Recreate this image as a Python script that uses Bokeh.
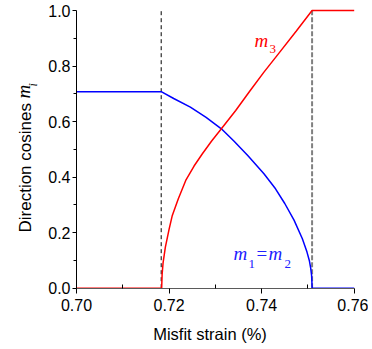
import math
from bokeh.plotting import figure
from bokeh.models import Range1d, FixedTicker, PrintfTickFormatter, Label
from bokeh.embed import file_html
from bokeh.resources import INLINE

# ---- data ----
x_ticks = [0.70, 0.72, 0.74, 0.76]
x_minor = [0.71, 0.73, 0.75]
y_ticks = [0.0, 0.2, 0.4, 0.6, 0.8, 1.0]
y_minor = [0.1, 0.3, 0.5, 0.7, 0.9]

strain_m12 = [0.700, 0.7184, 0.7210, 0.7246, 0.7280, 0.7313, 0.7340, 0.7370,
              0.7405, 0.7430, 0.7450, 0.7470, 0.7488, 0.7498, 0.7503, 0.7506,
              0.7508, 0.75092, 0.760]
m12 = [0.707, 0.707, 0.683, 0.652, 0.615, 0.574, 0.530, 0.478,
       0.412, 0.358, 0.305, 0.245, 0.178, 0.130, 0.100, 0.072,
       0.045, 0.0, 0.0]

strain_m3 = [0.700, 0.7184, 0.7185, 0.7187, 0.7192, 0.7200, 0.7207, 0.7220,
             0.7236, 0.7254, 0.7272, 0.7292, 0.7313, 0.7344, 0.7375, 0.7405,
             0.7440, 0.7475, 0.7509, 0.760]
m3 = [0.0, 0.0, 0.05, 0.09, 0.148, 0.212, 0.262, 0.322,
      0.388, 0.440, 0.484, 0.530, 0.574, 0.640, 0.711, 0.778,
      0.852, 0.926, 1.0, 1.0]

transition_strain = [0.7183, 0.7509]

# ---- layout: the frame spans the whole canvas, axes are pinned at (0.70, 0) ----
FW, FH = 368, 345
PX_PER_X = 277.7 / 0.06      # pixels per unit strain
PX_PER_Y = 277.7             # pixels per unit cosine
X0_PX, Y0_PX = 76.0, 287.7   # pixel position of (0.70, 0.0)

x_start = 0.70 - X0_PX / PX_PER_X
x_end = x_start + FW / PX_PER_X
y_end = Y0_PX / PX_PER_Y
y_start = y_end - FH / PX_PER_Y

p = figure(frame_width=FW, frame_height=FH, min_border=0,
           x_range=Range1d(x_start, x_end), y_range=Range1d(y_start, y_end),
           output_backend="svg", toolbar_location=None)

p.xgrid.visible = False
p.ygrid.visible = False
p.outline_line_color = None
p.background_fill_color = "white"
p.border_fill_color = "white"

p.xaxis.fixed_location = 0.0
p.yaxis.fixed_location = 0.70
p.xaxis.bounds = (x_ticks[0], x_ticks[-1])
p.yaxis.bounds = (y_ticks[0], y_ticks[-1])

p.xaxis.ticker = FixedTicker(ticks=x_ticks, minor_ticks=x_minor)
p.yaxis.ticker = FixedTicker(ticks=y_ticks, minor_ticks=y_minor)
p.xaxis.formatter = PrintfTickFormatter(format="%.2f")
p.yaxis.formatter = PrintfTickFormatter(format="%.1f")

for ax in (p.xaxis, p.yaxis):
    ax.major_label_text_font = "Liberation Sans"
    ax.major_label_text_font_size = "16px"
    ax.major_label_text_color = "black"
    ax.major_tick_line_color = "black"
    ax.minor_tick_line_color = "black"
    ax.major_tick_in = 0

p.xaxis.axis_line_color = "#5a5a5a"
p.xaxis.major_tick_out = 5
p.xaxis.minor_tick_in = 4
p.xaxis.minor_tick_out = 0
p.xaxis.major_label_standoff = 6

p.yaxis.axis_line_color = "black"
p.yaxis.major_tick_out = 4
p.yaxis.minor_tick_out = 3
p.yaxis.minor_tick_in = 0
p.yaxis.major_label_standoff = 2

# dashed transition lines
p.segment(x0=[transition_strain[0]], y0=[y_ticks[0]], x1=[transition_strain[0]], y1=[y_ticks[-1]],
          line_color="black", line_width=1, line_dash="4 3")
p.segment(x0=[transition_strain[1]], y0=[y_ticks[0]], x1=[transition_strain[1]], y1=[y_ticks[-1]],
          line_color="#808080", line_width=2, line_dash="5 2")

p.line(strain_m12, m12, line_color="#0000ff", line_width=1.5)
p.line(strain_m3, m3, line_color="#ff0000", line_width=1.5)

# helpers: pixel -> data
def ux(xw):
    return 0.70 + (xw - X0_PX) / PX_PER_X

def vy(yw):
    return (Y0_PX - yw) / PX_PER_Y

serif = "Liberation Serif"
sans = "Liberation Sans"

def lab(xw, yw, text, color, size, style="normal", font=serif, angle=0.0,
        baseline="alphabetic", align="left"):
    p.add_layout(Label(x=ux(xw), y=vy(yw), text=text, text_color=color,
                       text_font=font, text_font_size=size,
                       text_font_style=style, angle=angle,
                       text_baseline=baseline, text_align=align))

# m3 label
red = "#ff0000"
lab(254, 40, "m", red, "19px", "italic")
lab(269, 48, "3", red, "13px")
# m1 = m2 label
blue = "#2020ff"
lab(233, 253, "m", blue, "19px", "italic")
lab(248, 263, "1", blue, "13px")
lab(256, 253, "=", blue, "19px")
lab(268, 253, "m", blue, "19px", "italic")
lab(284, 263, "2", blue, "13px")

# x-axis title
lab(209.5, 333, "Misfit strain (%)", "black", "16.5px", font=sans, align="center")

# y-axis title (rotated)
lab(25, 232, "Direction cosines", "black", "17px", font=sans, angle=math.pi / 2)
lab(23, 98, "m", "black", "19px", "italic", angle=math.pi / 2)
lab(32, 86, "i", "black", "12px", "italic", angle=math.pi / 2)

open("out.html", "w").write(file_html(p, INLINE))
